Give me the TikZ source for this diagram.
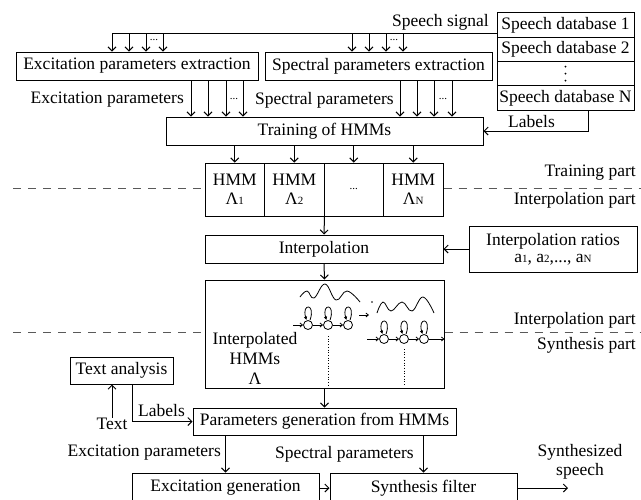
\documentclass[tikz,border=0pt]{standalone}
\usepackage{fontspec}
\setmainfont{Liberation Serif}
\usetikzlibrary{arrows.meta}
\newcommand\smsub[1]{{\fontsize{11}{11}\selectfont #1}}
\newcommand\smdots{{\fontsize{11}{11}\selectfont ...}}
\begin{document}
\begin{tikzpicture}[x=1pt,y=-1pt,
  every node/.style={font=\fontsize{17.5}{19}\selectfont, inner sep=0pt},
  box/.style={draw, line width=1pt, align=center},
  arr/.style={line width=1pt, -{Straight Barb[length=4pt,width=8pt]}},
  smallarr/.style={line width=0.8pt, -{Straight Barb[length=2.5pt,width=4pt]}},
  looparr/.style={line width=0.8pt, -{Latex[length=3.5pt,width=3.5pt]}},
  dashline/.style={line width=1pt, black!65, dash pattern=on 8pt off 7pt},
  st/.style={circle, draw, line width=0.8pt, minimum size=9pt, inner sep=0pt}]
\useasboundingbox (0,0) rectangle (641,499);
\clip (0,0) rectangle (641,499);
\fill[white] (0,0) rectangle (641,499);

% speech databases
\node[box, minimum width=137pt, minimum height=24.25pt] (db1) at (565.5,25.1) {Speech database 1};
\node[box, minimum width=137pt, minimum height=24.25pt] (db2) at (565.5,49.4) {Speech database 2};
\node[box, minimum width=137pt, minimum height=24.25pt] (db3) at (565.5,73.6) {};
\foreach \dy in {-7,0,7} \fill ([yshift=\dy pt]db3.center) circle (1.1pt);
\node[box, minimum width=137pt, minimum height=24.25pt] (dbN) at (565.5,97.9) {Speech database N};

% extraction boxes
\node[box, minimum width=242pt, minimum height=28pt] (excx) at (137,66) {Excitation parameters extraction};
\node[box, minimum width=227pt, minimum height=28pt] (spcx) at (378.5,66) {Spectral parameters extraction};

% speech signal
\coordinate (sig) at (497,33);
\coordinate (sigL) at (112,33);
\draw[line width=1pt] (sig) -- (sigL);
\node[anchor=east] (sigtxt) at (489,22) {Speech signal};
\foreach \s in {-25,-8,9,26} \draw[arr] ([xshift=\s pt]excx.north |- sig) -- ([xshift=\s pt]excx.north);
\foreach \s in {-26.5,-9.5,7.5,24.5} \draw[arr] ([xshift=\s pt]spcx.north |- sig) -- ([xshift=\s pt]spcx.north);
\node (d1) at (154,40) {\smdots};
\node (d2) at (394,40) {\smdots};

% training
\node[box, minimum width=317pt, minimum height=28pt] (train) at (324.5,131) {Training of HMMs};
\foreach \s in {54,71,89,106} \draw[arr] ([xshift=\s pt]excx.south) -- ([xshift=\s pt]excx.south |- train.north);
\foreach \s in {21.5,38.5,55.5,73.5} \draw[arr] ([xshift=\s pt]spcx.south) -- ([xshift=\s pt]spcx.south |- train.north);
\node (d3) at (234,99) {\smdots};
\node (d4) at (443,99) {\smdots};
\node[anchor=east] (excp1) at (184,100) {Excitation parameters};
\node[anchor=west] (spcp1) at (255,100) {Spectral parameters};

\draw[arr] (dbN.south -| 588,0) |- (train.east);
\node[anchor=west] (lab1) at (508,122) {Labels};

% HMM cells
\node[box, minimum width=59.5pt, minimum height=53pt] (hmm1) at (234.75,189.5) {HMM\\Λ\smsub{1}};
\node[box, minimum width=59.5pt, minimum height=53pt] (hmm2) at (294.25,189.5) {HMM\\Λ\smsub{2}};
\node[box, minimum width=59.5pt, minimum height=53pt] (hmm3) at (353.75,189.5) {\smdots};
\node[box, minimum width=59.5pt, minimum height=53pt] (hmm4) at (413.25,189.5) {HMM\\Λ\smsub{N}};
\foreach \n in {1,2,3,4} \draw[arr] (hmm\n.north |- train.south) -- (hmm\n.north);

% dashed line 1
\coordinate (dl1a) at (13,188);
\coordinate (dl1b) at (641,188);
\draw[dashline] (dl1a) -- (dl1a -| hmm1.west);
\draw[dashline] (hmm4.east |- dl1b) -- (dl1b);
\node[anchor=east] (trp) at (636,173) {Training part};
\node[anchor=east] (ipp1) at (636,200) {Interpolation part};

% interpolation
\node[box, minimum width=238pt, minimum height=28pt] (interp) at (324,249) {Interpolation};
\node[box, minimum width=168pt, minimum height=46pt, font=\fontsize{17.5}{17}\selectfont] (ratio) at (553,249) {Interpolation ratios\\a\smsub{1}, a\smsub{2},..., a\smsub{N}};
\draw[arr] (hmm2.south east) -- (interp.north);
\draw[arr] (ratio.west) -- (interp.east);

% interpolated HMMs
\node[box, minimum width=239pt, minimum height=108pt] (ihmm) at (324.5,334) {};
\draw[arr] (interp.south) -- (ihmm.north);
\node[align=center, font=\fontsize{17.5}{20}\selectfont] (ihtxt) at (255,358) {Interpolated\\HMMs\\Λ};

% chain 1
\node[st] (s11) at (308,325) {};
\node[st] (s12) at (328,325) {};
\node[st] (s13) at (348,325) {};
\coordinate (c1in) at (293,325);
\draw[smallarr] (c1in) -- (s11);
\draw[smallarr] (s11) -- (s12);
\draw[smallarr] (s12) -- (s13);
\foreach \n in {s11,s12,s13}
  \draw[looparr] ([xshift=2pt]\n.north) .. controls +(6,-17) and +(-5,-17) .. ([xshift=-1.5pt]\n.north);
\draw[line width=0.8pt] plot[smooth, tension=0.7] coordinates {(300,297) (307,291) (314,298) (325,284) (336,300) (347,291) (360,302)};

% chain 2
\node[st] (s21) at (384,339) {};
\node[st] (s22) at (404,339) {};
\node[st] (s23) at (424,339) {};
\coordinate (c2in) at (367,339);
\draw[smallarr] (c2in) -- (s21);
\draw[smallarr] (s21) -- (s22);
\draw[smallarr] (s22) -- (s23);
\draw[smallarr] (s23) -- (s23 -| ihmm.east);
\foreach \n in {s21,s22,s23}
  \draw[looparr] ([xshift=2pt]\n.north) .. controls +(6,-17) and +(-5,-17) .. ([xshift=-1.5pt]\n.north);
\draw[line width=0.8pt] plot[smooth, tension=0.7] coordinates {(377,313) (383,302) (391,311) (402,302) (412,311) (423,297) (434,313)};

\draw[smallarr] (359,315) -- (369,315);
\fill (372,302) circle (0.8pt);
\draw[line width=0.7pt, dotted] (328,336) -- (328,385);
\draw[line width=0.7pt, dotted] (404,349) -- (404,385);

% dashed line 2
\coordinate (dl2a) at (13,332);
\coordinate (dl2b) at (641,332);
\draw[dashline] (dl2a) -- (dl2a -| ihmm.west);
\draw[dashline] (ihmm.east |- dl2b) -- (dl2b);
\node[anchor=east] (ipp2) at (636,320) {Interpolation part};
\node[anchor=east] (syp) at (636,345) {Synthesis part};

% synthesis
\node[box, minimum width=103pt, minimum height=27pt] (textan) at (121.5,370.5) {Text analysis};
\node[box, minimum width=263pt, minimum height=27pt] (pgen) at (324.5,421.5) {Parameters generation from HMMs};
\draw[arr] (ihmm.south) -- (pgen.north);
\node (txt) at (112,424) {Text};
\draw[arr] (txt.north) -- (txt.north |- textan.south);
\draw[arr] ([xshift=10.5pt]textan.south) |- (pgen.west);
\node[anchor=west] (lab2) at (138,411) {Labels};

\node[box, minimum width=187pt, minimum height=30pt] (excgen) at (225.5,488) {Excitation generation};
\node[box, minimum width=187pt, minimum height=30pt] (synf) at (423.5,488) {Synthesis filter};
\draw[arr] (excgen.north |- pgen.south) -- (excgen.north);
\draw[arr] (synf.north |- pgen.south) -- (synf.north);
\node[anchor=east] (excp2) at (221,453) {Excitation parameters};
\node[anchor=west] (spcp2) at (275,454) {Spectral parameters};
\draw[arr] (excgen.east) -- (synf.west);
\coordinate (out) at (568,488);
\draw[arr] (synf.east) -- (out);
\node[align=center] (synsp) at (580,462) {Synthesized\\speech};
\end{tikzpicture}
\end{document}
